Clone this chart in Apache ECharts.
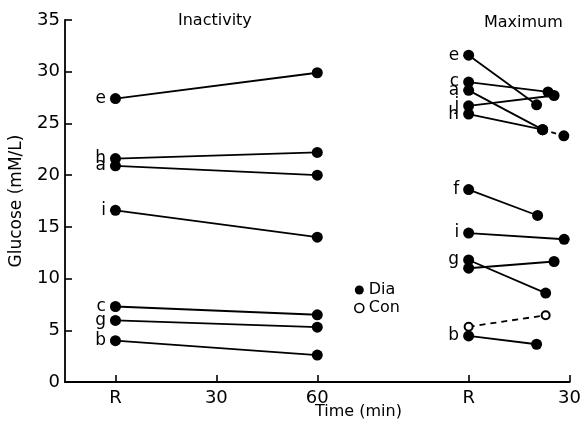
<!DOCTYPE html>
<html>
<head>
<meta charset="utf-8">
<script src="https://cdn.jsdelivr.net/npm/echarts@6/dist/echarts.min.js"></script>
<style>html,body{margin:0;padding:0;background:#fff}#c{width:584px;height:428px}</style>
</head>
<body>
<div id="c"></div>
<script>
// ---- data ----
// Inactivity panel: value at rest (R) and at 60 min
var inactLabels = ['e', 'h', 'a', 'i', 'c', 'g', 'b'];
var inactRest   = [27.4, 21.6, 20.9, 16.6, 7.3, 5.95, 4.0];
var inact60     = [29.9, 22.2, 20.0, 14.0, 6.5, 5.3, 2.6];

// Maximum panel (Dia): value at R, time of second reading (min), second value
var maxLabels  = ['e', 'c', 'a', 'j', 'h', 'f', 'i', 'g', '', 'b'];
var maxRest    = [31.6, 29.0, 28.2, 26.7, 25.9, 18.6, 14.4, 11.8, 11.0, 4.45];
var maxEndTime = [20.2, 23.6, 22.0, 25.4, 22.0, 20.5, 28.4, 22.9, 25.4, 20.2];
var maxEndVal  = [26.8, 28.05, 24.4, 27.7, 24.4, 16.1, 13.8, 8.6, 11.65, 3.65];

// dashed continuation in Maximum panel
var extTime = [22.0, 28.3];
var extVal  = [24.4, 23.8];

// Maximum panel (Con)
var conRest = 5.35;
var conEndTime = 22.9;
var conEndVal = 6.45;

// axis ticks
var xTickValues = [0, 30, 60, 105, 135];
var xTickLabels = ['R', '30', '60', 'R', '30'];
var maxPanelOffset = 105; // position of the Maximum panel's R on the shared time axis

// ---- chart ----
var FONT = 'DejaVu Sans';
var series = [];
var lineStyle = { color: '#000', width: 1.8 };
var letterLabel = { show: true, position: 'left', distance: 4, color: '#000', fontFamily: FONT, fontSize: 17 };

inactLabels.forEach(function (lab, i) {
  series.push({
    name: 'Dia', type: 'line', symbol: 'circle', symbolSize: 11,
    itemStyle: { color: '#000' }, lineStyle: lineStyle, silent: true, animation: false,
    data: [
      { value: [0, inactRest[i]], label: Object.assign({}, letterLabel, { formatter: lab }) },
      { value: [60, inact60[i]] }
    ]
  });
});

maxLabels.forEach(function (lab, i) {
  var first = { value: [maxPanelOffset, maxRest[i]] };
  if (lab) first.label = Object.assign({}, letterLabel, { formatter: lab });
  series.push({
    name: 'Dia', type: 'line', symbol: 'circle', symbolSize: 11,
    itemStyle: { color: '#000' }, lineStyle: lineStyle, silent: true, animation: false,
    data: [first, { value: [maxPanelOffset + maxEndTime[i], maxEndVal[i]] }]
  });
});

series.push({
  name: 'Dia', type: 'line', symbol: 'circle', symbolSize: 11,
  itemStyle: { color: '#000' }, lineStyle: { color: '#000', width: 1.8, type: [5, 4] },
  silent: true, animation: false,
  data: extTime.map(function (t, k) { return [maxPanelOffset + t, extVal[k]]; })
});

series.push({
  name: 'Con', type: 'line', symbol: 'emptyCircle', symbolSize: 8,
  itemStyle: { color: '#000', borderColor: '#000', borderWidth: 1.6 },
  lineStyle: { color: '#000', width: 1.8, type: [6, 5] }, silent: true, animation: false,
  data: [[maxPanelOffset, conRest], [maxPanelOffset + conEndTime, conEndVal]]
});

var chart = echarts.init(document.getElementById('c'), null, { renderer: 'canvas' });
chart.setOption({
  backgroundColor: '#fff',
  animation: false,
  textStyle: { fontFamily: FONT },
  title: [
    { text: 'Inactivity', left: 173, top: 8, textStyle: { fontFamily: FONT, fontSize: 16, fontWeight: 'normal', color: '#000' } },
    { text: 'Maximum', left: 479, top: 10, textStyle: { fontFamily: FONT, fontSize: 16, fontWeight: 'normal', color: '#000' } },
    { text: 'Time (min)', left: 310, top: 399, textStyle: { fontFamily: FONT, fontSize: 16, fontWeight: 'normal', color: '#000' } }
  ],
  legend: {
    orient: 'vertical', left: 349, top: 277, itemGap: 2, itemWidth: 9, itemHeight: 9,
    textStyle: { fontFamily: FONT, fontSize: 16, lineHeight: 16, color: '#000' },
    data: [
      { name: 'Dia', icon: 'circle', itemStyle: { color: '#000', borderWidth: 0 } },
      { name: 'Con', icon: 'circle', itemStyle: { color: '#fff', borderColor: '#000', borderWidth: 1.6 } }
    ],
    selectedMode: false
  },
  grid: { left: 64, right: 13, top: 20, bottom: 46, containLabel: false },
  xAxis: {
    type: 'value', min: -15, max: 135,
    splitLine: { show: false },
    axisLine: { show: true, onZero: false, lineStyle: { color: '#000', width: 2 } },
    axisTick: { show: true, inside: true, length: 7, customValues: xTickValues, lineStyle: { color: '#000', width: 1.6 } },
    axisLabel: {
      customValues: xTickValues, margin: 7, color: '#000', fontFamily: FONT, fontSize: 18,
      formatter: function (v) { var k = xTickValues.indexOf(v); return k >= 0 ? xTickLabels[k] : ''; }
    }
  },
  yAxis: {
    type: 'value', min: 0, max: 35, interval: 5,
    name: 'Glucose (mM/L)', nameLocation: 'middle', nameGap: 40, nameRotate: 90,
    nameTextStyle: { fontFamily: FONT, fontSize: 17, color: '#000' },
    splitLine: { show: false },
    axisLine: { show: true, onZero: false, lineStyle: { color: '#000', width: 1.8 } },
    axisTick: { show: true, inside: true, length: 7, lineStyle: { color: '#000', width: 1.6 } },
    axisLabel: { margin: 5, color: '#000', fontFamily: FONT, fontSize: 18 }
  },
  series: series
});
</script>
</body>
</html>
